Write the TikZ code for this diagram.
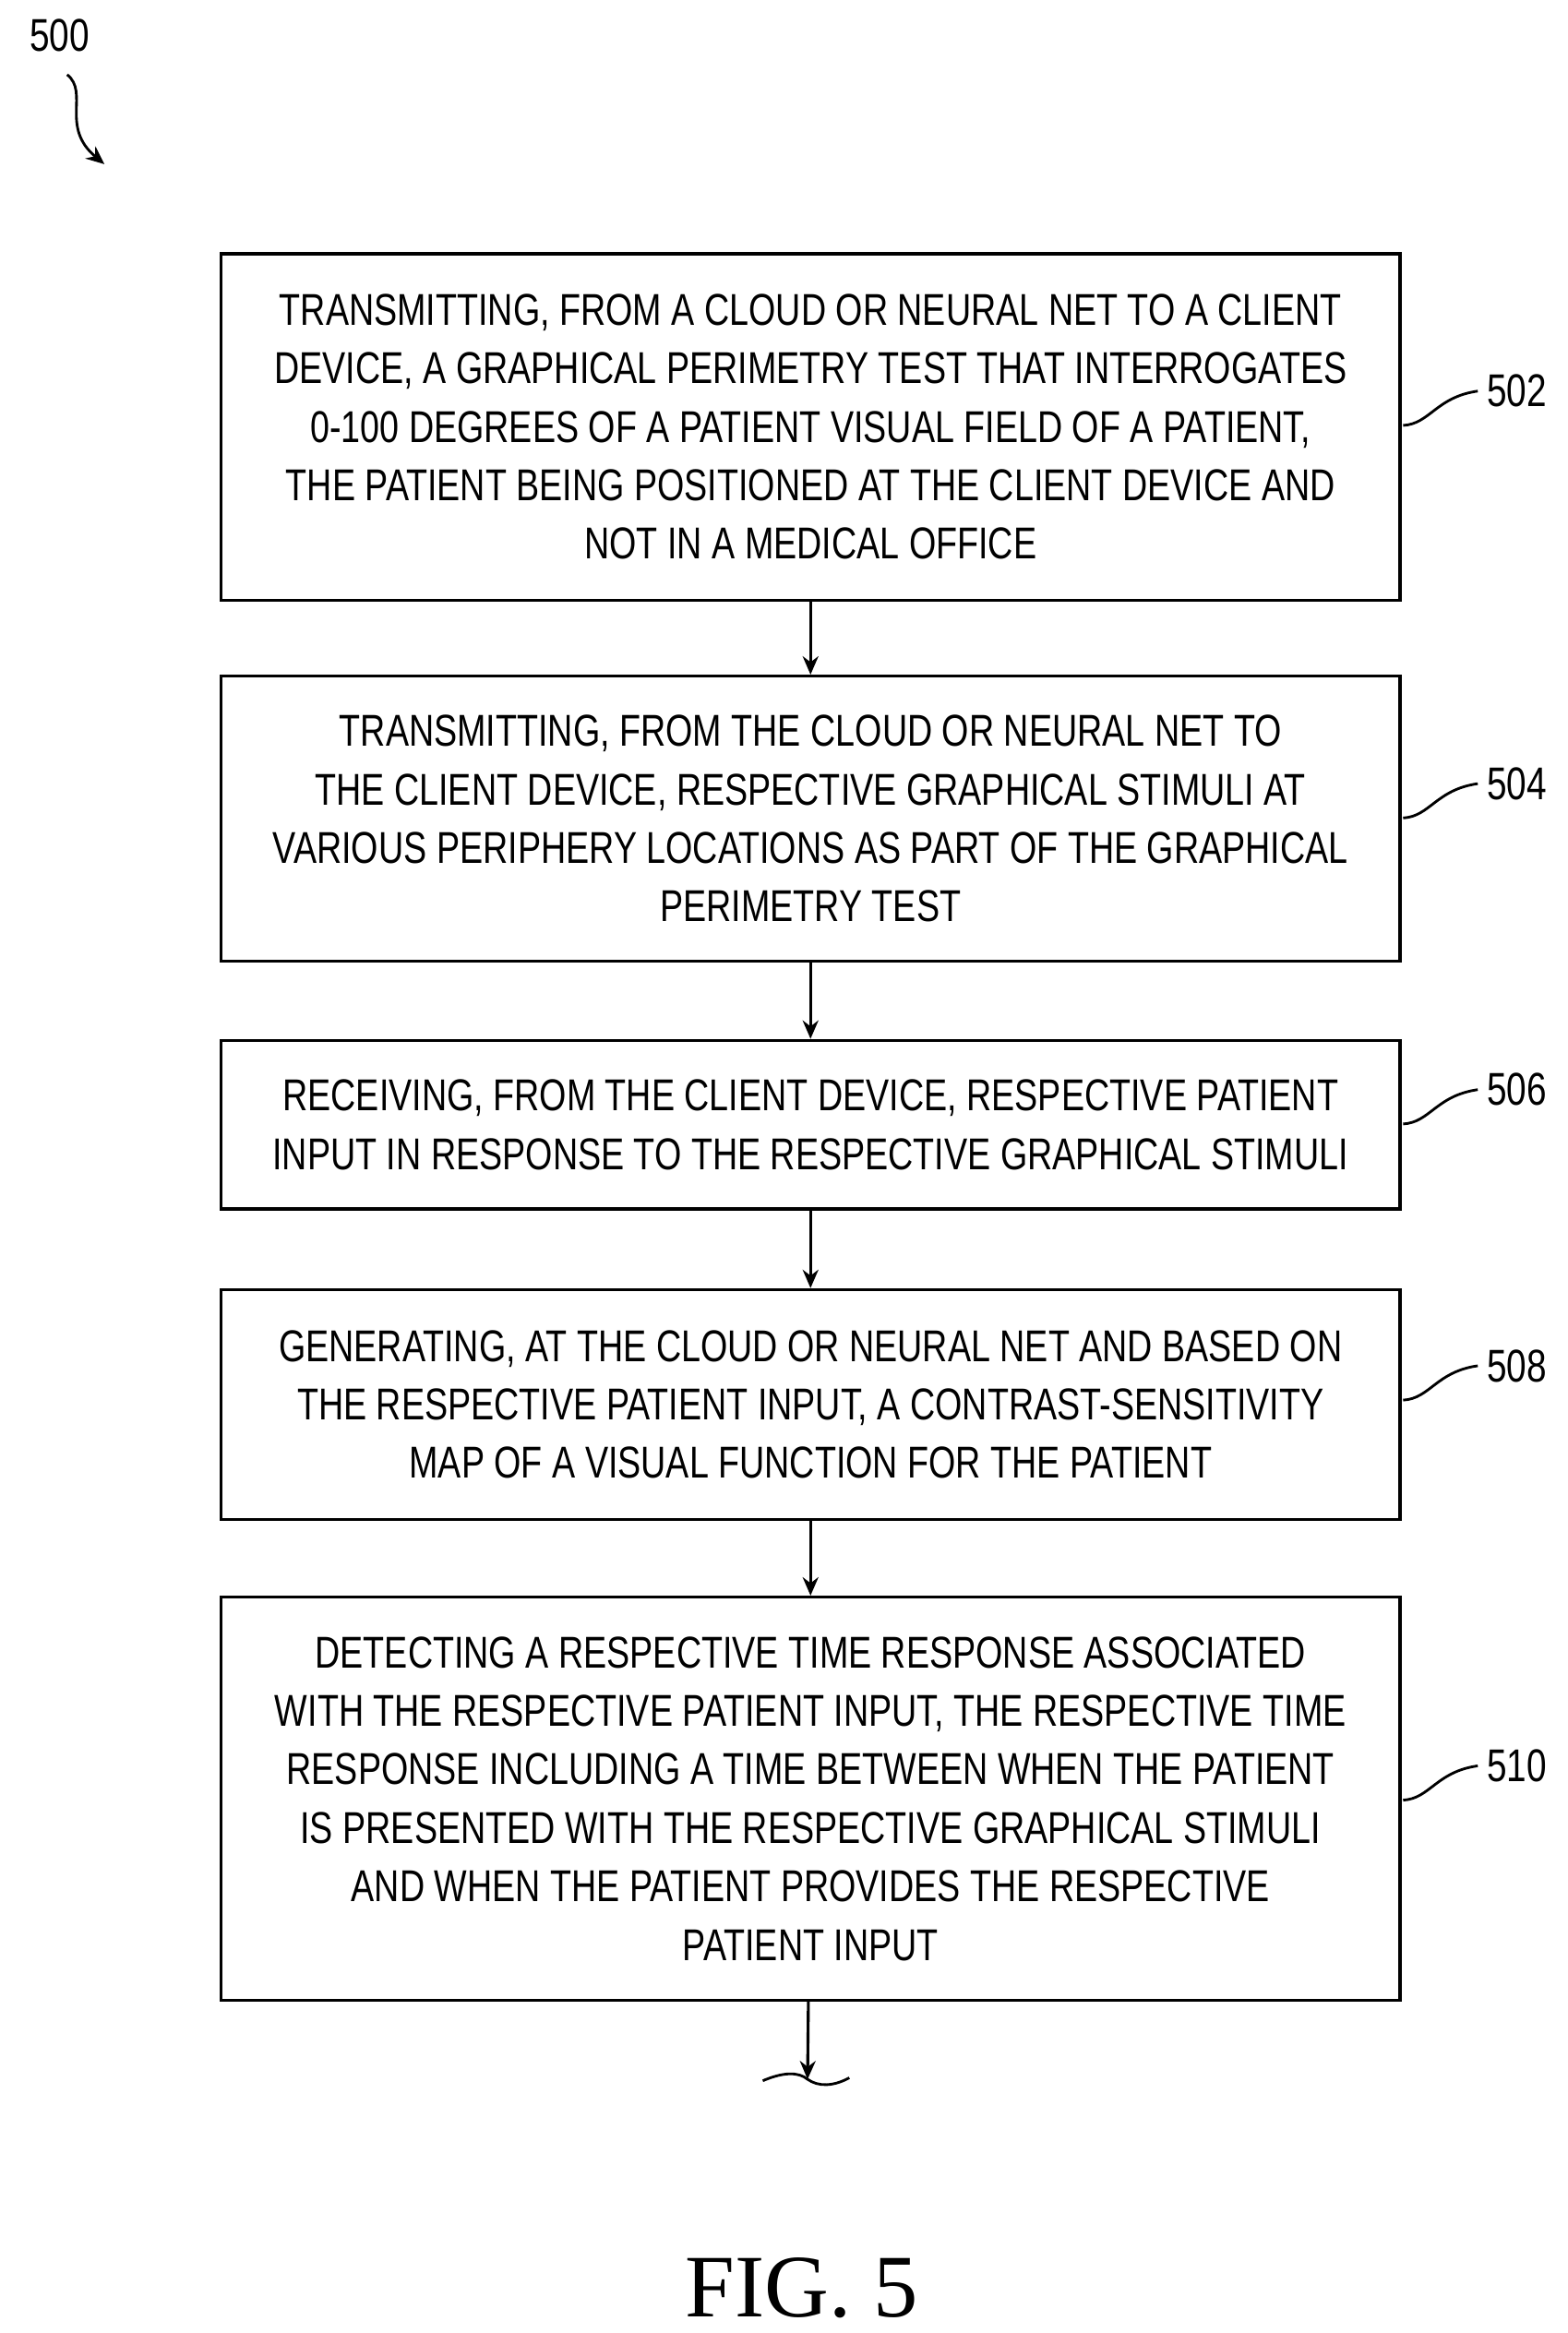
\documentclass[tikz,border=0pt]{standalone}
\usepackage{fontspec}
\usetikzlibrary{arrows.meta}
\setmainfont{Liberation Sans}[FakeStretch=0.78]
\newfontfamily\figfont{Liberation Serif}
\begin{document}
\begin{tikzpicture}[x=0.02cm,y=-0.02cm,
  box/.style={draw,line width=1.2pt,minimum width=790*0.02cm,align=center,font=\fontsize{17}{22.3}\selectfont,inner sep=0pt},
  arr/.style={line width=1.1pt,-{Stealth[length=7pt,width=6pt]}},
  lbl/.style={font=\fontsize{17.5}{20}\selectfont},
  sq/.style={line width=1pt}]
\useasboundingbox (0,0) rectangle (1050,1563);
\node[box,minimum height=232*0.02cm] (b502) at (543,286) {TRANSMITTING, FROM A CLOUD OR NEURAL NET TO A CLIENT\\DEVICE, A GRAPHICAL PERIMETRY TEST THAT INTERROGATES\\0-100 DEGREES OF A PATIENT VISUAL FIELD OF A PATIENT,\\THE PATIENT BEING POSITIONED AT THE CLIENT DEVICE AND\\NOT IN A MEDICAL OFFICE};
\node[box,minimum height=191*0.02cm] (b504) at (543,548.5) {TRANSMITTING, FROM THE CLOUD OR NEURAL NET TO\\THE CLIENT DEVICE, RESPECTIVE GRAPHICAL STIMULI AT\\VARIOUS PERIPHERY LOCATIONS AS PART OF THE GRAPHICAL\\PERIMETRY TEST};
\node[box,minimum height=113*0.02cm] (b506) at (543,753.5) {RECEIVING, FROM THE CLIENT DEVICE, RESPECTIVE PATIENT\\INPUT IN RESPONSE TO THE RESPECTIVE GRAPHICAL STIMULI};
\node[box,minimum height=154*0.02cm] (b508) at (543,941) {GENERATING, AT THE CLOUD OR NEURAL NET AND BASED ON\\THE RESPECTIVE PATIENT INPUT, A CONTRAST-SENSITIVITY\\MAP OF A VISUAL FUNCTION FOR THE PATIENT};
\node[box,minimum height=270*0.02cm] (b510) at (543,1205) {DETECTING A RESPECTIVE TIME RESPONSE ASSOCIATED\\WITH THE RESPECTIVE PATIENT INPUT, THE RESPECTIVE TIME\\RESPONSE INCLUDING A TIME BETWEEN WHEN THE PATIENT\\IS PRESENTED WITH THE RESPECTIVE GRAPHICAL STIMULI\\AND WHEN THE PATIENT PROVIDES THE RESPECTIVE\\PATIENT INPUT};
\draw[arr] (b502) -- (b504);
\draw[arr] (b504) -- (b506);
\draw[arr] (b506) -- (b508);
\draw[arr] (b508) -- (b510);
\coordinate (end) at (541,1393);
\draw[arr] (b510) -- (end);
\draw[sq] (511,1394) .. controls (525,1388) and (535,1388) .. (541,1393) .. controls (548,1398) and (558,1398) .. (569,1392);
\foreach \n/\y in {502/262,504/525,506/730,508/915,510/1183}{
  \node[lbl,anchor=west] (l\n) at (990,\y) {\n};
  \draw[sq] (940,\y+23) .. controls (958,\y+22) and (962,\y+4) .. (l\n.west);
}
\node[lbl] (l500) at (40,24) {500};
\coordinate (t500) at (70,110);
\draw[sq,-{Stealth[length=7pt,width=6pt]}] (45,50) .. controls (60,62) and (40,85) .. (t500);
\node[font=\figfont\fontsize{34}{34}\selectfont] (fig) at (537,1533) {FIG. 5};
\end{tikzpicture}
\end{document}
